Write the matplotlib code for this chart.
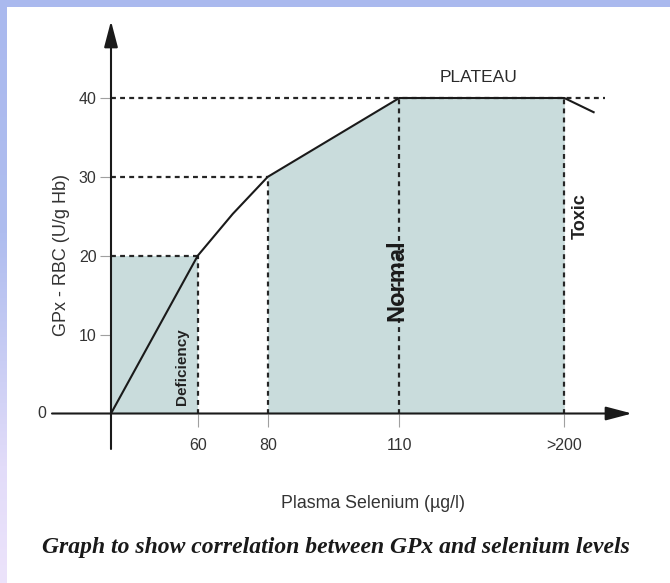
import numpy as np
import matplotlib
matplotlib.use("Agg")
import matplotlib.pyplot as plt
from matplotlib.colors import LinearSegmentedColormap

# ---- data -------------------------------------------------------------
selenium = [0, 60, 70, 80, 110, 200, 216]          # plasma selenium (µg/l)
gpx = [0, 20, 25.3, 30, 40, 40, 38.2]              # GPx - RBC (U/g Hb)

x_ticks = [60, 80, 110, 200]
x_tick_labels = ["60", "80", "110", ">200"]
y_ticks = [10, 20, 30, 40]
y_tick_labels = ["10", "20", "30", "40"]

deficiency_x = [0, 60]
deficiency_top = 20
normal_x = [80, 110, 200]
normal_top = [30, 40, 40]

# ---- schematic (piecewise) x scale -------------------------------------
_knots = np.array([0.0, 60.0, 80.0, 110.0, 200.0])
_pos = np.array([0.0, 86.7, 156.7, 288.3, 453.3])


def _piecewise(x, src, dst):
    x = np.asarray(x, dtype=float)
    y = np.interp(x, src, dst)
    lo_slope = (dst[1] - dst[0]) / (src[1] - src[0])
    hi_slope = (dst[-1] - dst[-2]) / (src[-1] - src[-2])
    y = np.where(x < src[0], dst[0] + (x - src[0]) * lo_slope, y)
    y = np.where(x > src[-1], dst[-1] + (x - src[-1]) * hi_slope, y)
    return y


def fwd(x):
    return _piecewise(x, _knots, _pos)


def inv(x):
    return _piecewise(x, _pos, _knots)


W, H = 670, 583
plt.rcParams["font.family"] = ["Liberation Sans", "DejaVu Sans"]

fig = plt.figure(figsize=(W / 100, H / 100), dpi=100)
fig.patch.set_facecolor("white")

# slide frame: top band and left band with a soft vertical gradient
top_ax = fig.add_axes([0, 1 - 7 / H, 1, 7 / H])
top_ax.axis("off")
top_ax.imshow(np.zeros((2, 2)), cmap=LinearSegmentedColormap.from_list(
    "t", ["#aab9ee", "#aab9ee"]), aspect="auto", extent=[0, 1, 0, 1])
left_ax = fig.add_axes([0, 0, 7 / W, 1])
left_ax.axis("off")
grad = np.linspace(0, 1, 256).reshape(-1, 1)
left_cmap = LinearSegmentedColormap.from_list(
    "l", [(0.0, "#aab9ee"), (0.40, "#afbdef"), (0.62, "#c9cdf4"),
          (0.80, "#e2dcf9"), (1.0, "#ece3fb")])
left_ax.imshow(grad, cmap=left_cmap, aspect="auto", extent=[0, 1, 0, 1],
               origin="upper")

# main axes, placed in pixel terms
px_left, px_right, px_top, px_bottom = 30, 650, 15, 460
origin_px_x, origin_px_y = 111, 413.5
px_per_unit_y = (413.5 - 98) / 40.0

ax = fig.add_axes([px_left / W, 1 - px_bottom / H,
                   (px_right - px_left) / W, (px_bottom - px_top) / H])
ax.set_xscale("function", functions=(fwd, inv))
ax.set_xlim(float(inv(px_left - origin_px_x)), float(inv(px_right - origin_px_x)))
ax.set_ylim((origin_px_y - px_bottom) / px_per_unit_y,
            (origin_px_y - px_top) / px_per_unit_y)
ax.patch.set_alpha(0)

for side in ["top", "right"]:
    ax.spines[side].set_visible(False)
ax.spines["left"].set_position(("data", 0))
ax.spines["bottom"].set_position(("data", 0))
ax.spines["left"].set_color("none")
ax.spines["bottom"].set_color("none")

# shaded ranges
shade = "#c9dcdc"
ax.fill_between(deficiency_x, 0, deficiency_top, color=shade, lw=0, zorder=1)
ax.fill_between(normal_x, 0, normal_top, color=shade, lw=0, zorder=1)

# dashed guide lines
dash_kw = dict(color="#262626", lw=1.6, dashes=(2.2, 1.9), zorder=2)
ax.plot([0, 60], [20, 20], **dash_kw)
ax.plot([0, 80], [30, 30], **dash_kw)
ax.plot([0, 222], [40, 40], **dash_kw)
for xv, yv in [(60, 20), (80, 30), (110, 40), (200, 40)]:
    ax.plot([xv, xv], [0, yv], **dash_kw)

# response curve
ax.plot(selenium, gpx, color="#1a1a1a", lw=1.5, zorder=3,
        solid_joinstyle="round")

# axis arrows
arrow_kw = dict(arrowstyle="-|>,head_length=1.6,head_width=0.42",
                mutation_scale=10, lw=1.5, color="#1a1a1a",
                shrinkA=0, shrinkB=0)
ax.annotate("", xy=(float(inv(632 - origin_px_x)), 0),
            xytext=(float(inv(52 - origin_px_x)), 0),
            arrowprops=arrow_kw, annotation_clip=False, zorder=4)
ax.annotate("", xy=(0, (origin_px_y - 21) / px_per_unit_y),
            xytext=(0, (origin_px_y - 449) / px_per_unit_y),
            arrowprops=arrow_kw, annotation_clip=False, zorder=4)

# ticks
ax.set_xticks(x_ticks)
ax.set_xticklabels(x_tick_labels)
ax.set_yticks(y_ticks)
ax.set_yticklabels(y_tick_labels)
ax.xaxis.set_minor_locator(matplotlib.ticker.NullLocator())
ax.tick_params(axis="x", direction="out", length=9, width=0.8,
               color="#a0a0a0", pad=9, labelsize=11.5, labelcolor="#333333")
ax.tick_params(axis="y", direction="out", length=8, width=0.8,
               color="#a0a0a0", pad=2.5, labelsize=11.5, labelcolor="#333333")
ax.text(float(inv(46 - origin_px_x)), 0, "0", ha="right", va="center",
        fontsize=11.5, color="#333333")

# annotations
ax.text(49, 6.0, "Deficiency", rotation=90, ha="center", va="center",
        fontsize=11, fontweight="bold", color="#222222", zorder=5)
ax.text(109.4, 16.9, "Normal", rotation=90, ha="center", va="center",
        fontsize=17, fontweight="bold", color="#1a1a1a", zorder=5)
ax.text(208.5, 25.0, "Toxic", rotation=90, ha="center", va="center",
        fontsize=13, fontweight="bold", color="#222222", zorder=5)
ax.text(153.5, 42.6, "PLATEAU", ha="center", va="center",
        fontsize=12.5, color="#2a2a2a", zorder=5)

# axis titles and caption
fig.text(62 / W, 1 - 255 / H, "GPx - RBC (U/g Hb)", rotation=90,
         ha="center", va="center", fontsize=13, color="#333333")
fig.text(373 / W, 1 - 503 / H, "Plasma Selenium (µg/l)",
         ha="center", va="center", fontsize=12.8, color="#333333")
fig.text(336 / W, 1 - 548 / H,
         "Graph to show correlation between GPx and selenium levels",
         ha="center", va="center", fontsize=17, fontweight="bold",
         fontstyle="italic", family=["Liberation Serif", "DejaVu Serif"],
         color="#1a1a1a")

fig.savefig("out.png", dpi=100, facecolor=fig.get_facecolor())
